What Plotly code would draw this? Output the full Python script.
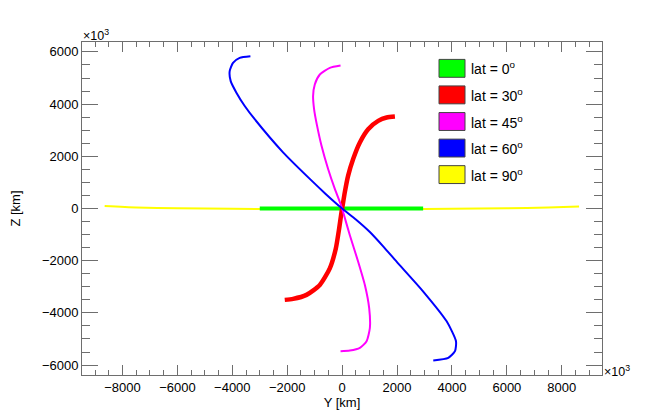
import plotly.graph_objects as go

# ---- data (Y [km], Z [km]) ----
lat_labels = ["lat = 0<sup>o</sup>", "lat = 30<sup>o</sup>", "lat = 45<sup>o</sup>",
              "lat = 60<sup>o</sup>", "lat = 90<sup>o</sup>"]
colors = ["#00ff00", "#ff0000", "#ff00ff", "#0000ff", "#ffff00"]

lat0_y = [-3000, 0, 2950]
lat0_z = [0, 0, 0]

lat30_y = [-2090, -1787, -1298, -813, -449, -230, -109, -22, 0, 98, 219, 401, 646, 948, 1313, 1619, 1922]
lat30_z = [-3501, -3463, -3310, -2930, -2293, -1531, -770, -133, 0, 629, 1261, 1897, 2533, 3040, 3356, 3486, 3524]

lat45_y = [-58, 281, 646, 890, 1010, 985, 828, 584, 281, 36, 0, -58, -266, -511, -751, -912, -1021, -1058, -996, -813, -449, -58]
lat45_z = [-5467, -5444, -5341, -5086, -4579, -3817, -2930, -2038, -1025, -133, 0, 183, 754, 1516, 2404, 3166, 3802, 4309, 4754, 5135, 5390, 5478]

lat60_y = [3319, 3866, 4110, 4147, 3807, 2954, 1984, 1495, 1010, 500, 0, -600, -1178, -2152, -3184, -3548, -3851, -4059, -4096, -3975, -3731, -3341]
lat60_z = [-5825, -5722, -5467, -5086, -4324, -3181, -2038, -1450, -900, -420, 0, 560, 1135, 2152, 3421, 3928, 4438, 4880, 5261, 5581, 5771, 5832]

lat90_y = [-8650, -7500, -6000, -4000, -2000, 0, 2000, 4000, 6000, 7500, 8630]
lat90_z = [95, 40, 10, -10, -20, -20, -20, -10, 10, 40, 80]

# drawing order: yellow underneath, then green, red, magenta, blue
order = [4, 0, 1, 2, 3]
series = [(lat0_y, lat0_z, 4), (lat30_y, lat30_z, 4.5), (lat45_y, lat45_z, 2),
          (lat60_y, lat60_z, 2), (lat90_y, lat90_z, 2)]

W, H = 649, 420
L, R, T, B = 82, 47, 42, 43
FONT = "Liberation Sans, Arial, sans-serif"
AX = "#6e6e6e"

fig = go.Figure()
for i in order:
    ys, zs, w = series[i]
    fig.add_trace(go.Scatter(x=ys, y=zs, mode="lines", name=lat_labels[i],
                             line=dict(color=colors[i], width=w, shape="spline", smoothing=0.6),
                             showlegend=False, hoverinfo="skip"))

pw, ph = W - L - R, H - T - B
def px(x):
    return (x - L) / pw
def py(y):
    return (H - B - y) / ph

shapes = []
annotations = []
row_y = [68.5, 95.2, 122.0, 148.7, 175.4]
for yc, name, c in zip(row_y, lat_labels, colors):
    shapes.append(dict(type="rect", xref="paper", yref="paper",
                       x0=px(439), x1=px(465), y0=py(yc + 9), y1=py(yc - 9),
                       fillcolor=c, line=dict(color="#444444", width=1)))
    annotations.append(dict(xref="paper", yref="paper", x=px(469), y=py(yc),
                            xanchor="left", yanchor="middle", showarrow=False,
                            text=name, font=dict(family=FONT, size=14, color="black")))

annotations.append(dict(xref="paper", yref="paper", x=px(81), y=py(35),
                        xanchor="left", yanchor="middle", showarrow=False,
                        text="×10<sup>3</sup>", font=dict(family=FONT, size=12.5, color="black")))
annotations.append(dict(xref="paper", yref="paper", x=px(602), y=py(373),
                        xanchor="left", yanchor="middle", showarrow=False,
                        text="×10<sup>3</sup>", font=dict(family=FONT, size=12.5, color="black")))

fig.update_layout(
    width=W, height=H,
    margin=dict(l=L, r=R, t=T, b=B, pad=0),
    paper_bgcolor="white", plot_bgcolor="white",
    font=dict(family=FONT, size=13, color="black"),
    shapes=shapes, annotations=annotations,
    showlegend=False,
)
fig.update_xaxes(
    range=[-9475, 9465], tick0=0, dtick=2000, tickformat="d",
    ticks="inside", ticklen=10, tickcolor=AX, tickwidth=1,
    minor=dict(dtick=500, ticklen=5, ticks="inside", tickcolor=AX),
    showline=True, linecolor=AX, linewidth=1, mirror="ticks",
    showgrid=False, zeroline=False,
    tickfont=dict(family=FONT, size=13, color="black"),
    title=dict(text="Y [km]", font=dict(family=FONT, size=13, color="black"), standoff=4),
)
fig.update_yaxes(
    range=[-6380, 6380], tick0=0, dtick=2000, tickformat="d",
    ticks="inside", ticklen=16, tickcolor=AX, tickwidth=1,
    minor=dict(dtick=500, ticklen=8, ticks="inside", tickcolor=AX),
    showline=True, linecolor=AX, linewidth=1, mirror="ticks",
    showgrid=False, zeroline=False,
    tickfont=dict(family=FONT, size=13, color="black"),
    title=dict(text="Z [km]", font=dict(family=FONT, size=13, color="black"), standoff=18),
)

fig.write_html("out.html", config={"displayModeBar": False},
               post_script="document.body.style.margin='0';document.body.style.padding='0';")
